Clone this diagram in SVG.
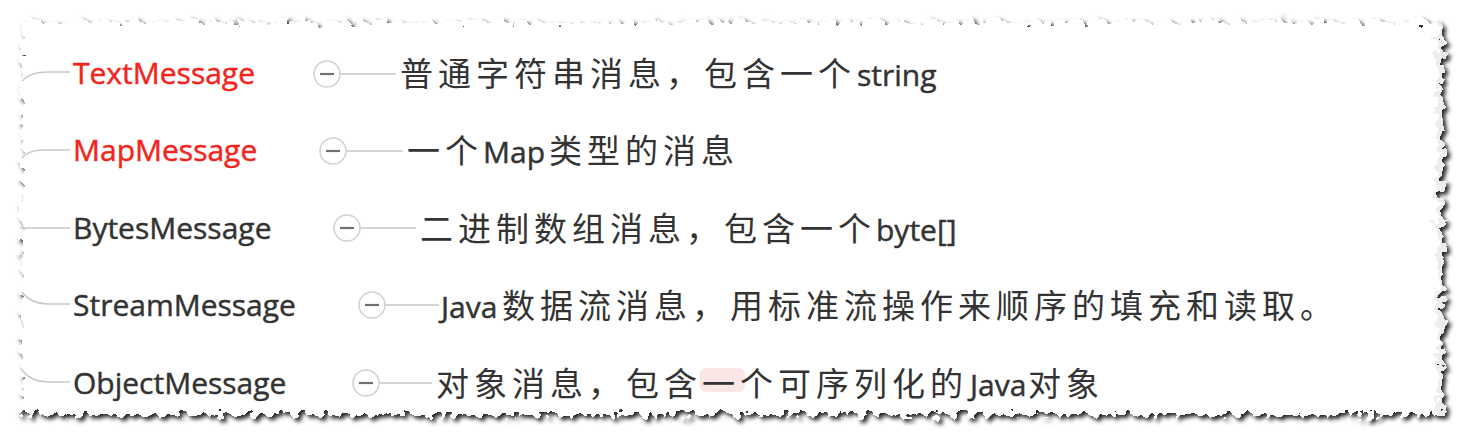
<svg xmlns="http://www.w3.org/2000/svg" width="1468" height="442" viewBox="0 0 1468 442">
  <defs>
    <filter id="torn" x="-3%" y="-8%" width="106%" height="116%" color-interpolation-filters="sRGB">
      <feTurbulence type="fractalNoise" baseFrequency="0.12" numOctaves="2" seed="7" result="noise"/>
      <feDisplacementMap in="SourceGraphic" in2="noise" scale="20" xChannelSelector="R" yChannelSelector="G" result="paper"/>
      <feColorMatrix in="paper" type="matrix" values="0 0 0 0 0.1  0 0 0 0 0.1  0 0 0 0 0.1  0 0 0 0.95 0" result="dark"/>
      <feGaussianBlur in="dark" stdDeviation="2" result="blur"/>
      <feOffset in="blur" dx="3" dy="3" result="shadow"/>
      <feMerge>
        <feMergeNode in="shadow"/>
        <feMergeNode in="paper"/>
      </feMerge>
    </filter>
    <style>
      .conn { fill: none; stroke: #c9c9c9; stroke-width: 1.5; }
      .node { font-family: 'Open Sans', 'Liberation Sans', sans-serif; font-size: 30px; fill: #333333; stroke: #333333; stroke-width: 0.45px; }
      .red { fill: #f2251c; stroke: #f2251c; }
      .toggle { fill: #ffffff; stroke: #d2d2d2; stroke-width: 1.6; }
      .minus { stroke: #6f6f6f; stroke-width: 2.2; }
      .desc { font-family: 'Noto Sans CJK SC', 'Noto Sans CJK JP', sans-serif; font-size: 33px; letter-spacing: 5px; fill: #333333; }
      .lat { font-family: 'Open Sans', 'Liberation Sans', sans-serif; font-size: 30px; letter-spacing: 0px; stroke: #333333; stroke-width: 0.45px; }
    </style>
  </defs>

  <rect x="0" y="0" width="1468" height="442" fill="#ffffff"/>

  <!-- torn paper -->
  <g id="paper" filter="url(#torn)">
    <rect x="21" y="21" width="1422" height="394" fill="#ffffff"/>
    <rect x="1437" y="21" width="6" height="394" fill="#ededed"/>
  </g>

  <!-- faint highlight artifact -->
  <rect x="700" y="368" width="45" height="24" rx="6" fill="#fbe6e6"/>

  <!-- connectors -->
  <g id="connectors">
    <path class="conn" d="M 22 81 C 28 74, 36 72, 48 72 L 70 72"/>
    <path class="conn" d="M 22 158 C 28 151, 36 150, 48 150 L 70 150"/>
    <path class="conn" d="M 20 228 L 70 228"/>
    <path class="conn" d="M 22 292 C 28 300, 36 304, 48 304 L 70 304"/>
    <path class="conn" d="M 22 370 C 28 378, 36 382, 48 382 L 70 382"/>
    <line class="conn" x1="340" y1="74" x2="396" y2="74"/>
    <line class="conn" x1="346" y1="151" x2="403" y2="151"/>
    <line class="conn" x1="360" y1="228" x2="416" y2="228"/>
    <line class="conn" x1="385" y1="305" x2="439" y2="305"/>
    <line class="conn" x1="379" y1="383" x2="432" y2="383"/>
  </g>

  <g id="node-text">
    <text class="node red" x="73" y="84">TextMessage</text>
    <circle class="toggle" cx="327" cy="74" r="13"/>
    <line class="minus" x1="320" y1="74" x2="334" y2="74"/>
    <text class="desc" x="400" y="86">普通字符串消息，包含一个<tspan class="lat" x="857">string</tspan></text>
  </g>

  <g id="node-map">
    <text class="node red" x="73" y="161">MapMessage</text>
    <circle class="toggle" cx="333" cy="151" r="13"/>
    <line class="minus" x1="326" y1="151" x2="340" y2="151"/>
    <text class="desc" x="407" y="163">一个<tspan class="lat" x="483">Map</tspan><tspan x="549">类型的消息</tspan></text>
  </g>

  <g id="node-bytes">
    <text class="node" x="73" y="239">BytesMessage</text>
    <circle class="toggle" cx="347" cy="228" r="13"/>
    <line class="minus" x1="340" y1="228" x2="354" y2="228"/>
    <text class="desc" x="420" y="241">二进制数组消息，包含一个<tspan class="lat" x="876">byte[]</tspan></text>
  </g>

  <g id="node-stream">
    <text class="node" x="73" y="316">StreamMessage</text>
    <circle class="toggle" cx="372" cy="305" r="13"/>
    <line class="minus" x1="365" y1="305" x2="379" y2="305"/>
    <text class="desc" x="441" y="318"><tspan class="lat">Java</tspan><tspan x="502">数据流消息，用标准流操作来顺序的填充和读取。</tspan></text>
  </g>

  <g id="node-object">
    <text class="node" x="73" y="394">ObjectMessage</text>
    <circle class="toggle" cx="366" cy="383" r="13"/>
    <line class="minus" x1="359" y1="383" x2="373" y2="383"/>
    <text class="desc" x="436" y="396">对象消息，包含一个可序列化的<tspan class="lat" x="970">Java</tspan><tspan x="1028">对象</tspan></text>
  </g>
</svg>
